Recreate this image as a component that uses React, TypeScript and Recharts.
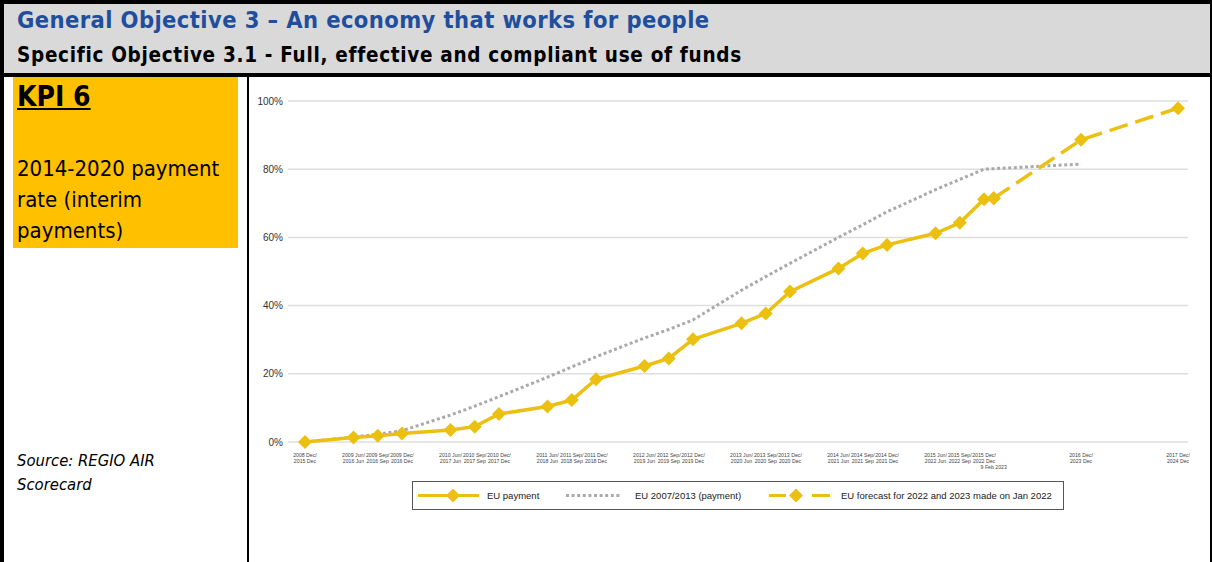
import React from 'react';
import { LineChart, Line, XAxis, YAxis, CartesianGrid, Legend } from 'recharts';

// x = quarters counted from 2008 Dec (2015 Dec for the 2014-2020 period)
const quarters = [0, 2, 3, 4, 6, 7, 8, 10, 11, 12, 14, 15, 16, 18, 19, 20, 22, 23, 24, 26, 27, 28];
const payment = [0, 1.3, 1.8, 2.5, 3.5, 4.5, 8.2, 10.4, 12.3, 18.4, 22.3, 24.5, 30.1, 34.8, 37.7, 44.1, 50.9, 55.3, 57.8, 61.2, 64.3, 71.2];
const previousPeriod = [0, 1.5, 2.3, 3.3, 7.9, 10.5, 13.3, 19, 22, 25, 30.5, 33, 35.8, 44.5, 48.5, 52.4, 60, 63.7, 67.5, 74, 77, 80];

const latestQuarter = 28.4; // 9 Feb 2023
const latestPayment = 71.5;
const previousPeriodEndQuarter = 32;
const previousPeriodEnd = 81.5;

const forecastQuarters = [28.4, 32, 36];
const forecast = [71.5, 88.6, 97.9];

const tickQuarters = [0, 2, 3, 4, 6, 7, 8, 10, 11, 12, 14, 15, 16, 18, 19, 20, 22, 23, 24, 26, 27, 28, 32, 36];
const tickTop = [
  '2008 Dec/', '2009 Jun/', '2009 Sep/', '2009 Dec/', '2010 Jun/', '2010 Sep/', '2010 Dec/',
  '2011 Jun/', '2011 Sep/', '2011 Dec/', '2012 Jun/', '2012 Sep/', '2012 Dec/',
  '2013 Jun/', '2013 Sep/', '2013 Dec/', '2014 Jun/', '2014 Sep/', '2014 Dec/',
  '2015 Jun/', '2015 Sep/', '2015 Dec/', '2016 Dec/', '2017 Dec/',
];
const tickBottom = [
  '2015 Dec', '2016 Jun', '2016 Sep', '2016 Dec', '2017 Jun', '2017 Sep', '2017 Dec',
  '2018 Jun', '2018 Sep', '2018 Dec', '2019 Jun', '2019 Sep', '2019 Dec',
  '2020 Jun', '2020 Sep', '2020 Dec', '2021 Jun', '2021 Sep', '2021 Dec',
  '2022 Jun', '2022 Sep', '2022 Dec', '2023 Dec', '2024 Dec',
];
const latestLabel = '9 Feb 2023';

const YELLOW = '#EBC010';
const GREY = '#AAAAAA';

type Row = { q: number; payment?: number; previous?: number; forecast?: number };

const buildRows = (): Row[] => {
  const map = new Map<number, Row>();
  const get = (q: number) => {
    if (!map.has(q)) map.set(q, { q });
    return map.get(q)!;
  };
  quarters.forEach((q, i) => {
    get(q).payment = payment[i];
    get(q).previous = previousPeriod[i];
  });
  get(latestQuarter).payment = latestPayment;
  get(previousPeriodEndQuarter).previous = previousPeriodEnd;
  forecastQuarters.forEach((q, i) => {
    get(q).forecast = forecast[i];
  });
  return Array.from(map.values()).sort((a, b) => a.q - b.q);
};

const data = buildRows();

const Diamond = (props: any) => {
  const { cx, cy, index } = props;
  if (cx == null || cy == null || props.value == null) return <g key={index} />;
  const r = 7;
  return (
    <polygon
      key={index}
      points={`${cx},${cy - r} ${cx + r},${cy} ${cx},${cy + r} ${cx - r},${cy}`}
      fill={YELLOW}
    />
  );
};

const QuarterTick = (props: any) => {
  const { x, y, payload } = props;
  const v = payload.value;
  const style = { fontFamily: '"Liberation Sans", Arial, sans-serif', fontSize: 5.2, fill: '#444' };
  if (v === latestQuarter) {
    return (
      <text x={x} y={y + 19} textAnchor="middle" style={style}>
        {latestLabel}
      </text>
    );
  }
  const i = tickQuarters.indexOf(v);
  if (i < 0) return null;
  return (
    <text x={x} y={y + 7} textAnchor="middle" style={style}>
      <tspan x={x} dy={0}>{tickTop[i]}</tspan>
      <tspan x={x} dy={5.6}>{tickBottom[i]}</tspan>
    </text>
  );
};

const LegendBox = () => (
  <div
    style={{
      width: 652,
      height: 29,
      border: '1px solid #555',
      boxSizing: 'border-box',
      background: '#fff',
    }}
  >
    <svg width={650} height={27} style={{ display: 'block' }}>
      <g style={{ fontFamily: '"Liberation Sans", Arial, sans-serif', fontSize: 9.5, fill: '#222' }}>
        <line x1={5} x2={66} y1={13.5} y2={13.5} stroke={YELLOW} strokeWidth={3} />
        <polygon points="40,6.5 47,13.5 40,20.5 33,13.5" fill={YELLOW} />
        <text x={74} y={17}>EU payment</text>

        <line x1={153} x2={207} y1={13.5} y2={13.5} stroke={GREY} strokeWidth={3} strokeDasharray="3 2.6" />
        <text x={222} y={17}>EU 2007/2013 (payment)</text>

        <line x1={356} x2={373} y1={13.5} y2={13.5} stroke={YELLOW} strokeWidth={3} />
        <polygon points="383,6.5 390,13.5 383,20.5 376,13.5" fill={YELLOW} />
        <line x1={399} x2={417} y1={13.5} y2={13.5} stroke={YELLOW} strokeWidth={3} />
        <text x={428} y={17}>EU forecast for 2022 and 2023 made on Jan 2022</text>
      </g>
    </svg>
  </div>
);

const Chart = () => (
  <LineChart
    width={950}
    height={440}
    data={data}
    margin={{ top: 21, right: 12, left: 0, bottom: 48 }}
  >
    <CartesianGrid vertical={false} stroke="#dedede" strokeWidth={1.5} />
    <XAxis
      dataKey="q"
      type="number"
      domain={[-0.7, 36.41]}
      ticks={[...tickQuarters, latestQuarter]}
      interval={0}
      tick={<QuarterTick />}
      tickLine={false}
      axisLine={false}
      height={30}
      allowDataOverflow
    />
    <YAxis
      domain={[0, 100]}
      ticks={[0, 20, 40, 60, 80, 100]}
      tickFormatter={(v) => `${v}%`}
      tickLine={false}
      axisLine={false}
      width={38}
      tick={{ fontSize: 10, fill: '#333', fontFamily: '"Liberation Sans", Arial, sans-serif', dx: 3 }}
    />
    <Legend
      verticalAlign="middle"
      content={<LegendBox />}
      wrapperStyle={{ position: 'absolute', left: 162, top: 401, width: 652, height: 29 }}
    />
    <Line
      dataKey="previous"
      name="EU 2007/2013 (payment)"
      stroke={GREY}
      strokeWidth={3}
      strokeDasharray="3 2.6"
      dot={false}
      connectNulls
      isAnimationActive={false}
    />
    <Line
      dataKey="forecast"
      name="EU forecast for 2022 and 2023 made on Jan 2022"
      stroke={YELLOW}
      strokeWidth={3.5}
      strokeDasharray="19 8"
      dot={<Diamond />}
      connectNulls
      isAnimationActive={false}
    />
    <Line
      dataKey="payment"
      name="EU payment"
      stroke={YELLOW}
      strokeWidth={3.5}
      dot={<Diamond />}
      isAnimationActive={false}
    />
  </LineChart>
);

export default function App() {
  const headerFont = '"DejaVu Sans Condensed", "DejaVu Sans", sans-serif';
  return (
    <div
      style={{
        position: 'absolute',
        left: 0,
        top: 0,
        width: 1212,
        height: 562,
        background: '#fff',
        overflow: 'hidden',
        fontFamily: headerFont,
      }}
    >
      {/* outer frame */}
      <div style={{ position: 'absolute', left: 0, top: 0, width: 4, height: 562, background: '#000' }} />
      <div style={{ position: 'absolute', left: 0, top: 0, width: 1212, height: 4, background: '#000' }} />
      <div style={{ position: 'absolute', left: 1210, top: 0, width: 2, height: 562, background: '#000' }} />
      {/* header */}
      <div style={{ position: 'absolute', left: 4, top: 4, width: 1206, height: 69, background: '#d9d9d9' }} />
      <div style={{ position: 'absolute', left: 0, top: 73, width: 1212, height: 4, background: '#000' }} />
      <div
        style={{
          position: 'absolute',
          left: 17,
          top: 5,
          fontSize: 23.5,
          letterSpacing: 0.4,
          fontWeight: 'bold',
          color: '#1f4e9c',
          whiteSpace: 'nowrap',
          lineHeight: '30px',
        }}
      >
        General Objective 3 – An economy that works for people
      </div>
      <div
        style={{
          position: 'absolute',
          left: 17,
          top: 41,
          fontSize: 20.5,
          letterSpacing: 0.7,
          fontWeight: 'bold',
          color: '#000',
          whiteSpace: 'nowrap',
          lineHeight: '28px',
        }}
      >
        Specific Objective 3.1 - Full, effective and compliant use of funds
      </div>
      {/* left column */}
      <div style={{ position: 'absolute', left: 247, top: 77, width: 2, height: 485, background: '#000' }} />
      <div style={{ position: 'absolute', left: 13, top: 77, width: 225, height: 171, background: '#FFC000' }} />
      <div
        style={{
          position: 'absolute',
          left: 17,
          top: 80,
          fontSize: 28,
          fontWeight: 'bold',
          textDecoration: 'underline',
          color: '#000',
          lineHeight: '34px',
        }}
      >
        KPI 6
      </div>
      <div
        style={{
          position: 'absolute',
          left: 17,
          top: 153,
          fontSize: 22,
          color: '#000',
          lineHeight: '31px',
          width: 225,
        }}
      >
        2014-2020 payment
        <br />
        rate (interim
        <br />
        payments)
      </div>
      <div
        style={{
          position: 'absolute',
          left: 17,
          top: 449,
          fontSize: 16.5,
          fontStyle: 'italic',
          color: '#000',
          lineHeight: '24px',
        }}
      >
        Source: REGIO AIR
        <br />
        Scorecard
      </div>
      {/* chart */}
      <div style={{ position: 'absolute', left: 250, top: 80 }}>
        <Chart />
      </div>
    </div>
  );
}
